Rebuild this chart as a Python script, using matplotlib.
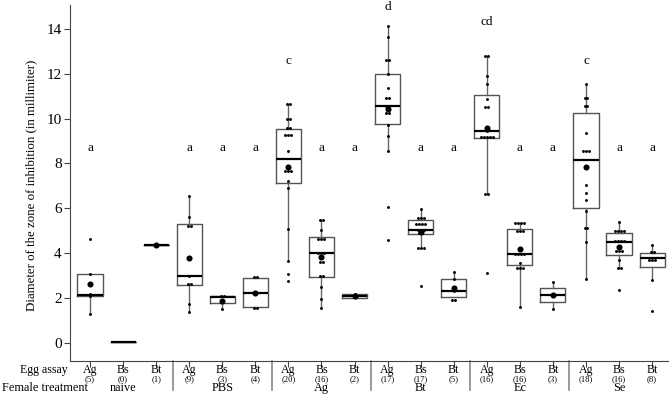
import numpy as np
import matplotlib
matplotlib.use('Agg')
import matplotlib.pyplot as plt

plt.rcParams['font.family'] = ['Liberation Serif', 'DejaVu Serif']

# groups: 6 female treatments x 3 egg assays
egg_assay = ['Ag', 'Bs', 'Bt'] * 6
n_eggs = [5, 0, 1, 9, 3, 4, 20, 16, 2, 17, 17, 5, 16, 16, 3, 18, 16, 8]
female_treatment = ['naive', 'PBS', 'Ag', 'Bt', 'Ec', 'Se']

# box statistics
q1 = [2.08, 0.05, 4.36, 2.56, 1.76, 1.61, 7.11, 2.93, 2.00, 9.75, 4.84, 2.04, 9.12, 3.48, 1.80, 6.01, 3.92, 3.36]
med = [2.14, 0.05, 4.36, 2.96, 2.05, 2.23, 8.20, 3.99, 2.10, 10.54, 5.04, 2.29, 9.44, 3.95, 2.13, 8.16, 4.48, 3.79]
q3 = [3.05, 0.05, 4.36, 5.31, 2.08, 2.89, 9.52, 4.70, 2.16, 12.00, 5.49, 2.83, 11.04, 5.09, 2.44, 10.24, 4.88, 4.02]
whislo = [1.30, 0.05, 4.36, 1.37, 1.52, 1.55, 3.65, 1.54, 2.00, 8.54, 4.21, 2.04, 6.63, 1.61, 1.52, 2.86, 3.35, 2.81]
whishi = [3.05, 0.05, 4.36, 6.53, 2.08, 2.92, 10.66, 5.46, 2.16, 14.14, 5.97, 3.14, 12.80, 5.33, 2.71, 11.56, 5.39, 4.35]
means = [2.60, None, 4.37, 3.79, 1.86, 2.23, 7.83, 3.80, 2.10, 10.45, 4.93, 2.43, 9.57, 4.20, 2.13, 7.84, 4.26, None]

# individual egg measurements
points = [
    [4.62, 3.05, 2.15, 2.10, 1.30],
    [],
    [4.37],
    [6.53, 5.60, 5.21, 5.21, 2.96, 2.63, 2.63, 1.71, 1.37],
    [2.06, 2.06, 1.52],
    [2.92, 2.92, 1.53, 1.53],
    [10.66, 10.66, 10.0, 10.0, 9.6, 9.6, 9.27, 9.27, 9.27, 8.56, 7.83, 7.65, 7.65, 7.65, 7.23, 6.89, 5.06, 3.65, 3.05, 2.74],
    [5.46, 5.46, 5.02, 4.62, 4.62, 4.62, 3.99, 3.99, 3.99, 3.62, 3.62, 2.98, 2.98, 2.50, 1.96, 1.54],
    [2.16, 2.05],
    [14.14, 13.65, 12.6, 12.6, 12.0, 11.36, 10.9, 10.9, 10.54, 10.54, 10.27, 10.27, 9.70, 9.21, 8.54, 6.07, 4.58],
    [5.97, 5.58, 5.58, 5.58, 5.29, 5.29, 5.29, 5.29, 5.04, 5.04, 5.04, 4.90, 4.90, 4.21, 4.21, 4.21, 2.54],
    [3.14, 2.86, 2.29, 1.90, 1.90],
    [12.8, 12.8, 11.88, 11.55, 10.88, 10.5, 10.5, 9.44, 9.18, 9.18, 9.18, 9.18, 9.18, 6.63, 6.63, 3.10],
    [5.33, 5.33, 5.33, 5.33, 4.97, 4.97, 4.97, 3.95, 3.95, 3.95, 3.95, 3.54, 3.32, 3.32, 3.32, 1.61],
    [2.71, 2.13, 1.52],
    [11.56, 10.92, 10.92, 10.54, 10.54, 9.36, 8.56, 8.56, 8.56, 7.80, 7.05, 6.68, 6.36, 5.89, 5.13, 5.13, 4.51, 2.86],
    [5.39, 4.99, 4.99, 4.99, 4.99, 4.54, 4.54, 4.54, 4.54, 4.11, 4.11, 4.11, 3.69, 3.35, 3.35, 2.37],
    [4.35, 4.05, 4.05, 3.69, 3.69, 3.69, 2.81, 1.41],
]

letters = ['a', '', '', 'a', 'a', 'a', 'c', 'a', 'a', 'd', 'a', 'a', 'cd', 'a', 'a', 'c', 'a', 'a']
letter_y = [8.7, 0, 0, 8.7, 8.7, 8.7, 12.55, 8.7, 8.7, 15.0, 8.7, 8.7, 14.33, 8.7, 8.7, 12.55, 8.7, 8.7]

positions = np.arange(1, len(egg_assay) + 1)

fig = plt.figure(figsize=(6.7, 4.03), dpi=100)
ax = fig.add_axes([0.1045, 0.1042, 0.8925, 0.8834])

stats = []
for i in range(len(positions)):
    stats.append({'q1': q1[i], 'med': med[i], 'q3': q3[i],
                  'whislo': whislo[i], 'whishi': whishi[i], 'fliers': []})

ax.bxp(stats, positions=positions, widths=0.76, showfliers=False, showcaps=False,
       boxprops=dict(color='#555555', linewidth=1.0),
       whiskerprops=dict(color='#666666', linewidth=1.0),
       medianprops=dict(color='black', linewidth=1.6))

# dots, identical values placed side by side
for pos, vals in zip(positions, points):
    xs, ys = [], []
    for v in sorted(set(vals)):
        k = vals.count(v)
        for j in range(k):
            xs.append(pos + (j - (k - 1) / 2) * 0.09)
            ys.append(v)
    ax.plot(xs, ys, 'o', color='black', markersize=2.1, markeredgewidth=0, zorder=3)

for pos, m in zip(positions, means):
    if m is not None:
        ax.plot(pos, m, 'o', color='black', markersize=4.4, markeredgewidth=0, zorder=4)

for pos, t, y in zip(positions, letters, letter_y):
    if t:
        ax.text(pos, y, t, ha='center', va='center', fontsize=9.5, clip_on=False)

ax.set_xlim(0.395, 18.48)
ax.set_ylim(-0.82, 15.07)
ax.set_yticks(range(0, 15, 2))
ax.tick_params(axis='y', labelsize=11, length=4.3, width=0.8, pad=1.8, color='#444444')
ax.tick_params(axis='x', length=4, width=0.8, color='#444444', labelbottom=False)
ax.set_xticks(positions)
ax.spines['top'].set_visible(False)
ax.spines['right'].set_visible(False)
ax.spines['left'].set_color('#444444')
ax.spines['bottom'].set_color('#444444')

ax.set_ylabel('Diameter of the zone of inhibition (in millimiter)', fontsize=9.3)
ax.yaxis.set_label_coords(-0.055, 0.494)

trans = ax.get_xaxis_transform()
for pos, lab, n in zip(positions, egg_assay, n_eggs):
    ax.text(pos, -0.0337, lab, transform=trans, ha='center', va='baseline', fontsize=8.6)
    ax.text(pos, -0.056, f'({n})', transform=trans, ha='center', va='baseline', fontsize=6.2)
for k, name in enumerate(female_treatment):
    ax.text(positions[3 * k + 1], -0.084, name, transform=trans, ha='center', va='baseline', fontsize=8.8)
for x in [3.5, 6.5, 9.5, 12.5, 15.5]:
    ax.plot([x, x], [0, -0.0815], transform=trans, color='#888888', linewidth=1.2, clip_on=False)

ax.text(-0.003, -0.0337, 'Egg assay', transform=ax.transAxes, ha='right', va='baseline', fontsize=8.6)
fig.text(1.5 / 670, (403 - 391) / 403, 'Female treatment', ha='left', va='baseline', fontsize=8.8)

fig.savefig('out.png', dpi=100)
